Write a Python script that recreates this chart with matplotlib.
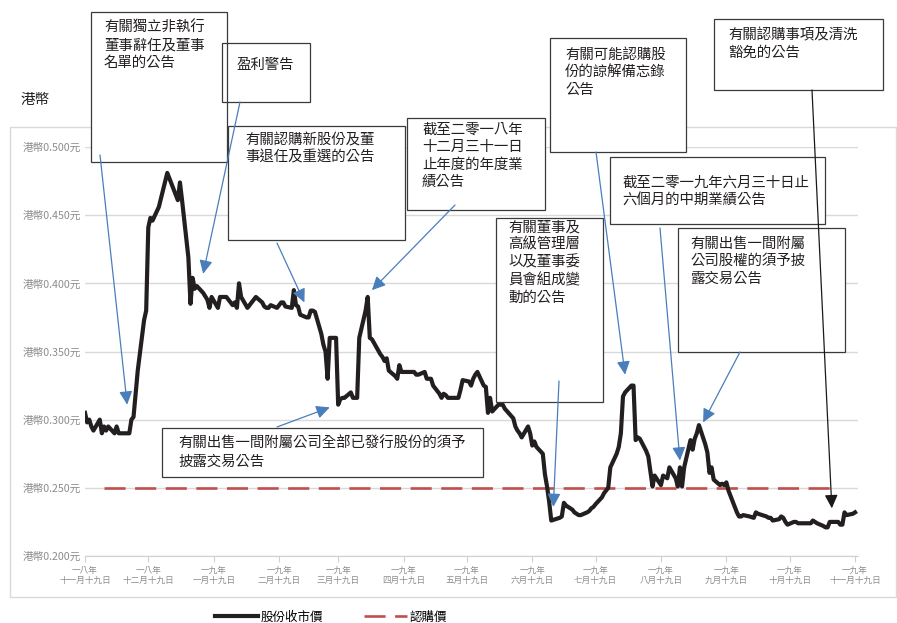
import matplotlib
matplotlib.use('Agg')
import matplotlib.pyplot as plt
import matplotlib.dates as mdates
from matplotlib.patches import Rectangle
import numpy as np

plt.rcParams['font.family'] = ['Noto Sans CJK TC', 'DejaVu Sans']

# 股份收市價 (港幣)
dates = [
    '2018-11-19', '2018-11-20', '2018-11-21', '2018-11-22', '2018-11-23',
    '2018-11-26', '2018-11-27', '2018-11-28', '2018-11-29', '2018-11-30',
    '2018-12-03', '2018-12-04', '2018-12-05', '2018-12-06', '2018-12-07',
    '2018-12-10', '2018-12-11', '2018-12-12', '2018-12-14', '2018-12-17',
    '2018-12-18', '2018-12-19', '2018-12-20', '2018-12-21', '2018-12-24',
    '2018-12-28', '2019-01-02', '2019-01-03', '2019-01-04', '2019-01-07',
    '2019-01-08', '2019-01-09', '2019-01-10', '2019-01-11', '2019-01-14',
    '2019-01-16', '2019-01-17', '2019-01-18', '2019-01-21', '2019-01-22',
    '2019-01-24', '2019-01-25', '2019-01-28', '2019-01-29', '2019-01-30',
    '2019-01-31', '2019-02-01', '2019-02-04', '2019-02-08', '2019-02-11',
    '2019-02-12', '2019-02-13', '2019-02-14', '2019-02-15', '2019-02-18',
    '2019-02-20', '2019-02-21', '2019-02-22', '2019-02-25', '2019-02-26',
    '2019-02-27', '2019-02-28', '2019-03-01', '2019-03-04', '2019-03-05',
    '2019-03-06', '2019-03-07', '2019-03-08', '2019-03-11', '2019-03-12',
    '2019-03-13', '2019-03-14', '2019-03-15', '2019-03-18', '2019-03-19',
    '2019-03-20', '2019-03-21', '2019-03-22', '2019-03-25', '2019-03-26',
    '2019-03-27', '2019-03-28', '2019-03-29', '2019-04-01', '2019-04-02',
    '2019-04-03', '2019-04-04', '2019-04-08', '2019-04-09', '2019-04-10',
    '2019-04-11', '2019-04-12', '2019-04-15', '2019-04-16', '2019-04-17',
    '2019-04-18', '2019-04-23', '2019-04-24', '2019-04-25', '2019-04-26',
    '2019-04-29', '2019-04-30', '2019-05-02', '2019-05-03', '2019-05-06',
    '2019-05-07', '2019-05-08', '2019-05-09', '2019-05-10', '2019-05-14',
    '2019-05-15', '2019-05-16', '2019-05-17', '2019-05-20', '2019-05-21',
    '2019-05-22', '2019-05-23', '2019-05-24', '2019-05-27', '2019-05-28',
    '2019-05-29', '2019-05-30', '2019-05-31', '2019-06-03', '2019-06-04',
    '2019-06-05', '2019-06-06', '2019-06-10', '2019-06-11', '2019-06-12',
    '2019-06-13', '2019-06-14', '2019-06-17', '2019-06-18', '2019-06-19',
    '2019-06-20', '2019-06-21', '2019-06-24', '2019-06-25', '2019-06-26',
    '2019-06-27', '2019-06-28', '2019-07-02', '2019-07-03', '2019-07-04',
    '2019-07-05', '2019-07-08', '2019-07-09', '2019-07-10', '2019-07-11',
    '2019-07-12', '2019-07-15', '2019-07-16', '2019-07-17', '2019-07-18',
    '2019-07-19', '2019-07-22', '2019-07-23', '2019-07-24', '2019-07-25',
    '2019-07-26', '2019-07-29', '2019-07-30', '2019-07-31', '2019-08-01',
    '2019-08-02', '2019-08-05', '2019-08-06', '2019-08-07', '2019-08-08',
    '2019-08-09', '2019-08-12', '2019-08-13', '2019-08-14', '2019-08-15',
    '2019-08-16', '2019-08-19', '2019-08-20', '2019-08-21', '2019-08-22',
    '2019-08-23', '2019-08-26', '2019-08-27', '2019-08-28', '2019-08-29',
    '2019-08-30', '2019-09-02', '2019-09-03', '2019-09-04', '2019-09-05',
    '2019-09-06', '2019-09-09', '2019-09-10', '2019-09-11', '2019-09-12',
    '2019-09-13', '2019-09-16', '2019-09-17', '2019-09-18', '2019-09-19',
    '2019-09-20', '2019-09-23', '2019-09-24', '2019-09-25', '2019-09-26',
    '2019-09-27', '2019-09-30', '2019-10-02', '2019-10-03', '2019-10-04',
    '2019-10-08', '2019-10-09', '2019-10-10', '2019-10-11', '2019-10-14',
    '2019-10-15', '2019-10-16', '2019-10-17', '2019-10-18', '2019-10-21',
    '2019-10-22', '2019-10-23', '2019-10-24', '2019-10-25', '2019-10-28',
    '2019-10-29', '2019-10-30', '2019-10-31', '2019-11-01', '2019-11-04',
    '2019-11-05', '2019-11-06', '2019-11-07', '2019-11-08', '2019-11-11',
    '2019-11-12', '2019-11-13', '2019-11-14', '2019-11-15', '2019-11-18',
    '2019-11-19',
]
close_prices = [
    0.305, 0.298, 0.300, 0.295, 0.292,
    0.300, 0.290, 0.295, 0.292, 0.295,
    0.290, 0.295, 0.290, 0.290, 0.290,
    0.290, 0.300, 0.302, 0.336, 0.373,
    0.380, 0.441, 0.448, 0.446, 0.456,
    0.481, 0.461, 0.474, 0.461, 0.419,
    0.385, 0.404, 0.396, 0.398, 0.393,
    0.388, 0.382, 0.390, 0.382, 0.390,
    0.390, 0.390, 0.384, 0.386, 0.382,
    0.400, 0.390, 0.382, 0.390, 0.386,
    0.383, 0.382, 0.382, 0.384, 0.382,
    0.386, 0.386, 0.383, 0.382, 0.395,
    0.384, 0.383, 0.377, 0.375, 0.375,
    0.380, 0.380, 0.379, 0.363, 0.355,
    0.350, 0.330, 0.360, 0.360, 0.311,
    0.315, 0.316, 0.316, 0.320, 0.316,
    0.316, 0.316, 0.360, 0.380, 0.390,
    0.360, 0.359, 0.348, 0.346, 0.343,
    0.345, 0.336, 0.332, 0.330, 0.340,
    0.335, 0.335, 0.335, 0.333, 0.333,
    0.335, 0.330, 0.330, 0.325, 0.319,
    0.316, 0.319, 0.318, 0.316, 0.316,
    0.316, 0.322, 0.329, 0.328, 0.325,
    0.330, 0.333, 0.335, 0.325, 0.324,
    0.305, 0.316, 0.306, 0.311, 0.311,
    0.311, 0.308, 0.301, 0.295, 0.292,
    0.290, 0.287, 0.295, 0.290, 0.281,
    0.284, 0.280, 0.275, 0.260, 0.251,
    0.240, 0.226, 0.228, 0.229, 0.239,
    0.237, 0.234, 0.232, 0.231, 0.230,
    0.230, 0.232, 0.233, 0.235, 0.236,
    0.238, 0.243, 0.246, 0.248, 0.250,
    0.265, 0.275, 0.280, 0.290, 0.317,
    0.320, 0.325, 0.325, 0.285, 0.287,
    0.286, 0.277, 0.273, 0.262, 0.251,
    0.259, 0.252, 0.259, 0.258, 0.257,
    0.265, 0.257, 0.251, 0.265, 0.251,
    0.265, 0.285, 0.278, 0.286, 0.290,
    0.296, 0.282, 0.276, 0.261, 0.265,
    0.256, 0.252, 0.253, 0.252, 0.254,
    0.248, 0.236, 0.232, 0.229, 0.229,
    0.230, 0.229, 0.228, 0.232, 0.231,
    0.229, 0.228, 0.228, 0.226, 0.227,
    0.229, 0.228, 0.225, 0.223, 0.225,
    0.225, 0.224, 0.224, 0.224, 0.224,
    0.224, 0.226, 0.225, 0.224, 0.222,
    0.221, 0.221, 0.225, 0.225, 0.225,
    0.223, 0.223, 0.232, 0.230, 0.231,
    0.232,
]

# 認購價
sub_dates = ['2018-11-28', '2019-11-08']
sub_prices = [0.25, 0.25]

tick_dates = ['2018-11-19', '2018-12-19', '2019-01-19', '2019-02-19', '2019-03-19',
              '2019-04-19', '2019-05-19', '2019-06-19', '2019-07-19', '2019-08-19',
              '2019-09-19', '2019-10-19', '2019-11-19']
tick_labels = ['一八年\n十一月十九日', '一八年\n十二月十九日', '一九年\n一月十九日',
               '一九年\n二月十九日', '一九年\n三月十九日', '一九年\n四月十九日',
               '一九年\n五月十九日', '一九年\n六月十九日', '一九年\n七月十九日',
               '一九年\n八月十九日', '一九年\n九月十九日', '一九年\n十月十九日',
               '一九年\n十一月十九日']
y_ticks = [0.200, 0.250, 0.300, 0.350, 0.400, 0.450, 0.500]

# 公告: 文字, 指向日期, 指向股價
event_texts = [
    '有關獨立非執行\n董事辭任及董事\n名單的公告',
    '盈利警告',
    '有關認購新股份及董\n事退任及重選的公告',
    '截至二零一八年\n十二月三十一日\n止年度的年度業\n績公告',
    '有關董事及\n高級管理層\n以及董事委\n員會組成變\n動的公告',
    '有關可能認購股\n份的諒解備忘錄\n公告',
    '截至二零一九年六月三十日止\n六個月的中期業績公告',
    '有關出售一間附屬\n公司股權的須予披\n露交易公告',
    '有關認購事項及清洗\n豁免的公告',
    '有關出售一間附屬公司全部已發行股份的須予\n披露交易公告',
]
event_dates = ['2018-12-09', '2019-01-14', '2019-03-03', '2019-04-04', '2019-06-29',
               '2019-08-02', '2019-08-28', '2019-09-08', '2019-11-08', '2019-03-15']
event_prices = [0.311, 0.407, 0.386, 0.395, 0.236, 0.333, 0.270, 0.298, 0.235, 0.309]

# layout in image pixels (from top-left)
W, H = 897, 623
boxes = [(91, 12, 227, 162), (222, 43, 310, 102), (228, 126, 405, 240),
         (407, 118, 545, 210), (496, 218, 603, 402), (550, 38, 686, 152),
         (610, 157, 825, 224), (678, 228, 845, 352), (714, 19, 883, 90),
         (162, 428, 483, 477)]
text_pos = [(104, 21), (237, 58), (245, 133), (422, 123), (508, 220),
            (565, 48), (622, 176), (690, 237), (728, 28), (178, 437)]
arrow_tails = [(100, 155), (240, 102), (277, 243), (455, 205), (559, 381),
               (596, 152), (660, 228), (740, 352), (812, 90), (277, 427)]
arrow_colors = ['#4a7ebb'] * 8 + ['#1a1a1a', '#4a7ebb']


def fig_xy(px, py):
    return px / W, 1 - py / H


fig = plt.figure(figsize=(W / 100, H / 100), dpi=100)
ax = fig.add_axes([85 / W, 1 - 556 / H, (858 - 85) / W, (556 - 147) / H])
ax.patch.set_visible(False)

x = mdates.date2num(np.array(dates, dtype='datetime64[D]'))
ax.plot(x, close_prices, color='#231f20', lw=3.0, solid_joinstyle='round',
        label='股份收市價', zorder=3)
xs = mdates.date2num(np.array(sub_dates, dtype='datetime64[D]'))
ax.plot(xs, sub_prices, color='#c0504d', lw=1.9, dashes=(8, 3.6),
        label='認購價', zorder=2.5)

x0 = mdates.date2num(np.datetime64('2018-11-19'))
ax.set_xlim(x0, x0 + 366.4)
ax.set_ylim(0.2, 0.5)

ax.set_yticks(y_ticks)
ax.set_yticklabels(['港幣%.3f元' % v for v in y_ticks], fontsize=7.7, color='#8c8c8c')
ax.set_xticks(mdates.date2num(np.array(tick_dates, dtype='datetime64[D]')))
ax.set_xticklabels(tick_labels, fontsize=6.2, color='#8c8c8c', linespacing=1.1)
ax.tick_params(axis='y', length=0, pad=3)
ax.tick_params(axis='x', length=4, color='#d0d0d0', pad=3)
ax.grid(axis='y', color='#d9d9d9', lw=1.0)
ax.set_axisbelow(True)
for s in ['top', 'right', 'left']:
    ax.spines[s].set_visible(False)
ax.spines['bottom'].set_color('#d0d0d0')

# chart frame
fl, ft = fig_xy(10, 127)
fr, fb = fig_xy(896, 597)
fig.patches.append(Rectangle((fl, fb), fr - fl, ft - fb, transform=fig.transFigure,
                             fill=False, ec='#d9d9d9', lw=1.0, zorder=-1))

fig.text(*fig_xy(21, 100), '港幣', fontsize=10.5, color='#231f20', va='center')

# annotation boxes
for (l, t, r, b) in boxes:
    bl, bt = fig_xy(l, t)
    br, bb = fig_xy(r, b)
    ax.add_patch(Rectangle((bl, bb), br - bl, bt - bb, transform=fig.transFigure,
                           fc='white', ec='none', clip_on=False, zorder=4))
for (l, t, r, b) in boxes:
    bl, bt = fig_xy(l, t)
    br, bb = fig_xy(r, b)
    ax.add_patch(Rectangle((bl, bb), br - bl, bt - bb, transform=fig.transFigure,
                           fill=False, ec='#3a3a3a', lw=0.9, clip_on=False, zorder=4.5))
for txt, (tx, ty) in zip(event_texts, text_pos):
    ax.text(*fig_xy(tx, ty), txt, transform=fig.transFigure, fontsize=10.4,
            color='#231f20', va='top', ha='left', linespacing=1.3, zorder=5)
for d, p, tail, c in zip(event_dates, event_prices, arrow_tails, arrow_colors):
    ax.annotate('', xy=(mdates.date2num(np.datetime64(d)), p), xycoords='data',
                xytext=fig_xy(*tail), textcoords='figure fraction',
                arrowprops=dict(arrowstyle='-|>,head_length=0.45,head_width=0.22',
                                mutation_scale=18, color=c, lw=0.9,
                                shrinkA=0, shrinkB=0),
                annotation_clip=False, zorder=6)

fig.legend(loc='center', bbox_to_anchor=(331 / W, 1 - 617 / H), ncol=2, frameon=False,
           fontsize=9, handlelength=3.4, columnspacing=3.3, handletextpad=0.2)

fig.savefig('out.png', dpi=100)
